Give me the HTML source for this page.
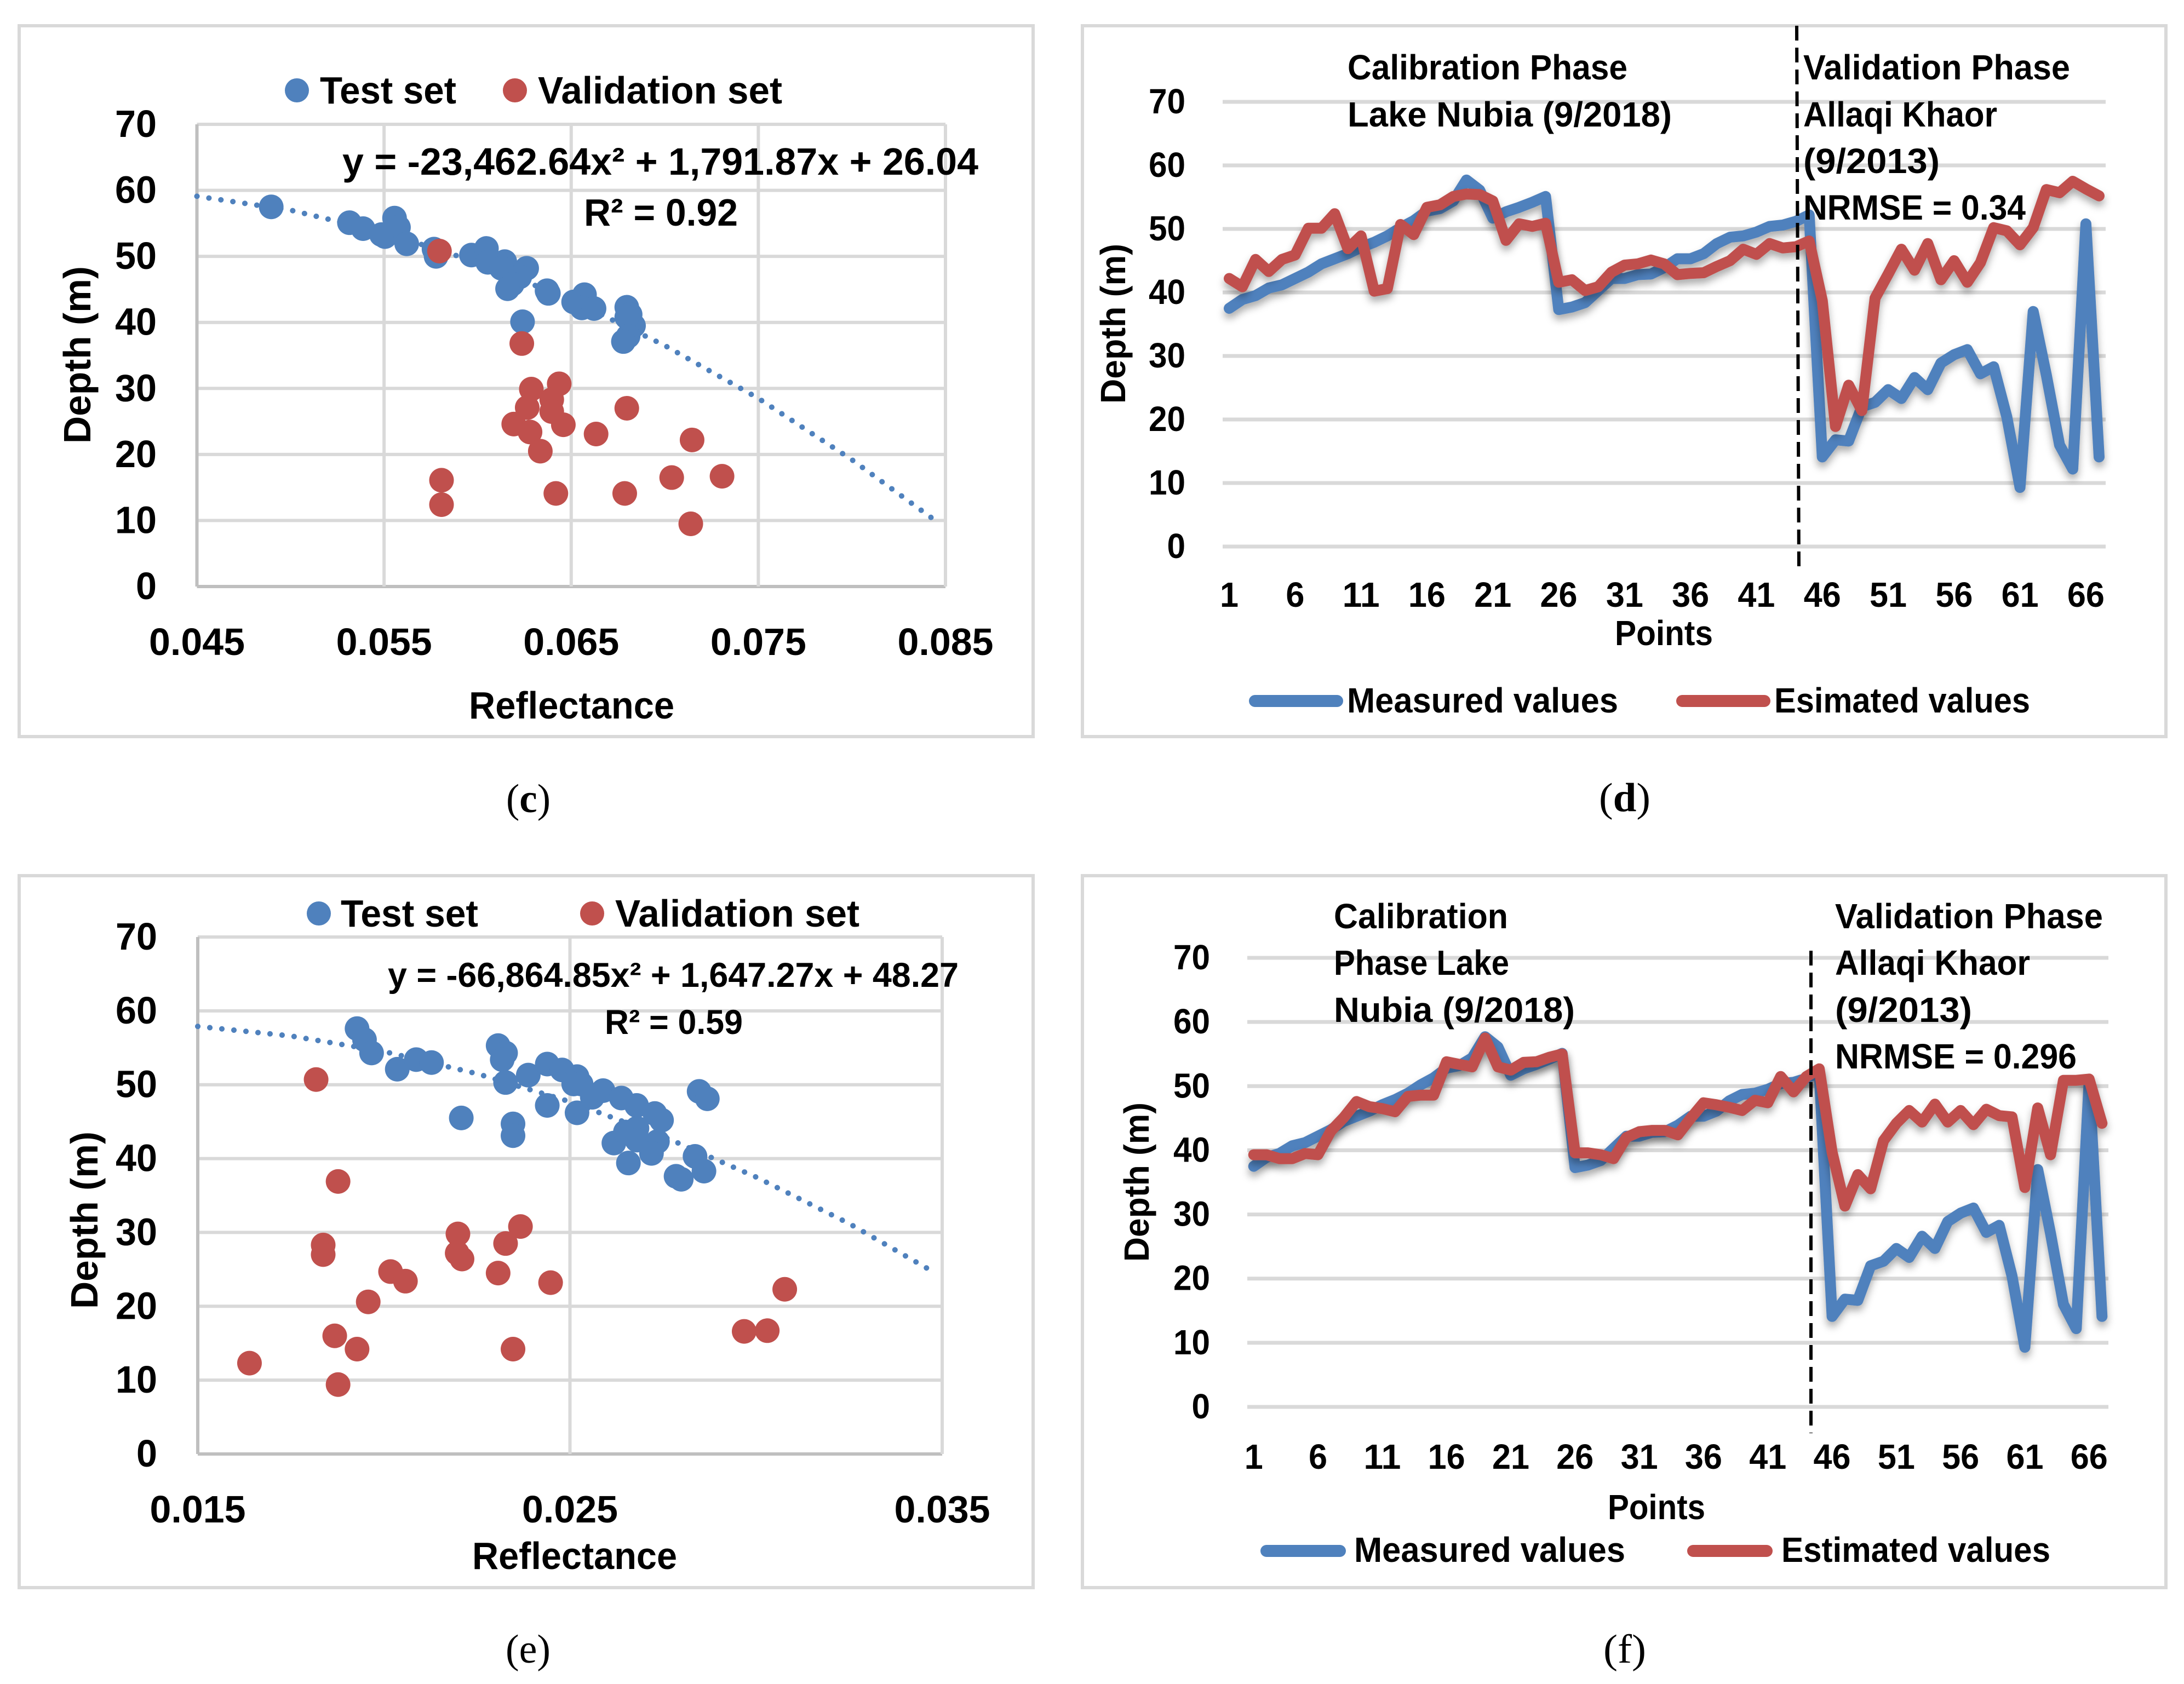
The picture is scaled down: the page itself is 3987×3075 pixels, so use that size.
<!DOCTYPE html>
<html lang="en">
<head>
<meta charset="utf-8">
<title>Depth versus reflectance charts</title>
<style>
  html, body { margin: 0; padding: 0; background: #ffffff; }
  svg { display: block; }
  .t { font-family: "Liberation Sans", sans-serif; font-weight: 700; fill: #000000; }
  .s { font-family: "Liberation Serif", serif; font-weight: 400; fill: #000000; }
</style>
</head>
<body>
<svg id="figure" xmlns="http://www.w3.org/2000/svg" width="3987" height="3075" viewBox="0 0 3987 3075">
  <defs>
    <filter id="lineShadow" x="-5%" y="-15%" width="110%" height="135%">
      <feDropShadow dx="0" dy="9" stdDeviation="7" flood-color="#000000" flood-opacity="0.33"/>
    </filter>
  </defs>

  <!-- Panel c -->
  <g id="panelC">
    <rect x="35" y="47" width="1851" height="1298" fill="#ffffff" stroke="#d9d9d9" stroke-width="6"/>
    <g id="plotC"></g>
    <circle cx="542" cy="165" r="22" fill="#4f81bd"/>
    <text class="t" x="584" y="189" font-size="70" textLength="249" lengthAdjust="spacingAndGlyphs">Test set</text>
    <circle cx="940" cy="165" r="22" fill="#c0504d"/>
    <text class="t" x="982" y="189" font-size="70" textLength="446" lengthAdjust="spacingAndGlyphs">Validation set</text>
    <text class="t" x="625" y="319" font-size="70" textLength="1161" lengthAdjust="spacingAndGlyphs">y = -23,462.64x² + 1,791.87x + 26.04</text>
    <text class="t" x="1066" y="412" font-size="70" textLength="281" lengthAdjust="spacingAndGlyphs">R² = 0.92</text>
    <text class="t" x="856" y="1312" font-size="70" textLength="375" lengthAdjust="spacingAndGlyphs">Reflectance</text>
    <text class="t" transform="translate(165,810) rotate(-90)" font-size="70" textLength="324" lengthAdjust="spacingAndGlyphs">Depth (m)</text>
    <text class="s" x="924" y="1483" font-size="74" textLength="81" lengthAdjust="spacingAndGlyphs">(<tspan font-weight="700">c</tspan>)</text>
  </g>

  <!-- Panel d -->
  <g id="panelD">
    <rect x="1976" y="47" width="1978" height="1298" fill="#ffffff" stroke="#d9d9d9" stroke-width="6"/>
    <g id="plotD"></g>
    <text class="t" x="2460" y="145" font-size="64" textLength="511" lengthAdjust="spacingAndGlyphs">Calibration Phase</text>
    <text class="t" x="2460" y="231" font-size="64" textLength="592" lengthAdjust="spacingAndGlyphs">Lake Nubia (9/2018)</text>
    <text class="t" x="3292" y="145" font-size="64" textLength="487" lengthAdjust="spacingAndGlyphs">Validation Phase</text>
    <text class="t" x="3292" y="231" font-size="64" textLength="354" lengthAdjust="spacingAndGlyphs">Allaqi Khaor</text>
    <text class="t" x="3292" y="316" font-size="64" textLength="249" lengthAdjust="spacingAndGlyphs">(9/2013)</text>
    <text class="t" x="3292" y="401" font-size="64" textLength="406" lengthAdjust="spacingAndGlyphs">NRMSE = 0.34</text>
    <text class="t" x="2948" y="1178" font-size="64" textLength="179" lengthAdjust="spacingAndGlyphs">Points</text>
    <text class="t" transform="translate(2054,737) rotate(-90)" font-size="64" textLength="292" lengthAdjust="spacingAndGlyphs">Depth (m)</text>
    <line x1="2291" y1="1280" x2="2441" y2="1280" stroke="#4f81bd" stroke-width="22" stroke-linecap="round"/>
    <text class="t" x="2459" y="1301" font-size="64" textLength="495" lengthAdjust="spacingAndGlyphs">Measured values</text>
    <line x1="3071" y1="1280" x2="3221" y2="1280" stroke="#c0504d" stroke-width="22" stroke-linecap="round"/>
    <text class="t" x="3239" y="1301" font-size="64" textLength="467" lengthAdjust="spacingAndGlyphs">Esimated values</text>
    <text class="s" x="2919" y="1481" font-size="74" textLength="94" lengthAdjust="spacingAndGlyphs">(<tspan font-weight="700">d</tspan>)</text>
  </g>

  <!-- Panel e -->
  <g id="panelE">
    <rect x="35" y="1599" width="1851" height="1300" fill="#ffffff" stroke="#d9d9d9" stroke-width="6"/>
    <g id="plotE"></g>
    <circle cx="582" cy="1668" r="22" fill="#4f81bd"/>
    <text class="t" x="622" y="1692" font-size="70" textLength="251" lengthAdjust="spacingAndGlyphs">Test set</text>
    <circle cx="1081" cy="1668" r="22" fill="#c0504d"/>
    <text class="t" x="1123" y="1692" font-size="70" textLength="446" lengthAdjust="spacingAndGlyphs">Validation set</text>
    <text class="t" x="708" y="1802" font-size="63" textLength="1042" lengthAdjust="spacingAndGlyphs">y = -66,864.85x² + 1,647.27x + 48.27</text>
    <text class="t" x="1104" y="1888" font-size="63" textLength="252" lengthAdjust="spacingAndGlyphs">R² = 0.59</text>
    <text class="t" x="862" y="2865" font-size="70" textLength="374" lengthAdjust="spacingAndGlyphs">Reflectance</text>
    <text class="t" transform="translate(178,2390) rotate(-90)" font-size="70" textLength="324" lengthAdjust="spacingAndGlyphs">Depth (m)</text>
    <text class="s" x="923" y="3036" font-size="74" textLength="82" lengthAdjust="spacingAndGlyphs">(e)</text>
  </g>

  <!-- Panel f -->
  <g id="panelF">
    <rect x="1976" y="1599" width="1978" height="1300" fill="#ffffff" stroke="#d9d9d9" stroke-width="6"/>
    <g id="plotF"></g>
    <text class="t" x="2435" y="1695" font-size="64" textLength="318" lengthAdjust="spacingAndGlyphs">Calibration</text>
    <text class="t" x="2435" y="1780" font-size="64" textLength="320" lengthAdjust="spacingAndGlyphs">Phase Lake</text>
    <text class="t" x="2435" y="1866" font-size="64" textLength="440" lengthAdjust="spacingAndGlyphs">Nubia (9/2018)</text>
    <text class="t" x="3350" y="1695" font-size="64" textLength="489" lengthAdjust="spacingAndGlyphs">Validation Phase</text>
    <text class="t" x="3350" y="1780" font-size="64" textLength="356" lengthAdjust="spacingAndGlyphs">Allaqi Khaor</text>
    <text class="t" x="3350" y="1866" font-size="64" textLength="250" lengthAdjust="spacingAndGlyphs">(9/2013)</text>
    <text class="t" x="3350" y="1951" font-size="64" textLength="441" lengthAdjust="spacingAndGlyphs">NRMSE = 0.296</text>
    <text class="t" x="2935" y="2774" font-size="64" textLength="178" lengthAdjust="spacingAndGlyphs">Points</text>
    <text class="t" transform="translate(2097,2304) rotate(-90)" font-size="64" textLength="291" lengthAdjust="spacingAndGlyphs">Depth (m)</text>
    <line x1="2312" y1="2832" x2="2446" y2="2832" stroke="#4f81bd" stroke-width="22" stroke-linecap="round"/>
    <text class="t" x="2472" y="2852" font-size="64" textLength="495" lengthAdjust="spacingAndGlyphs">Measured values</text>
    <line x1="3091" y1="2832" x2="3225" y2="2832" stroke="#c0504d" stroke-width="22" stroke-linecap="round"/>
    <text class="t" x="3252" y="2852" font-size="64" textLength="491" lengthAdjust="spacingAndGlyphs">Estimated values</text>
    <text class="s" x="2927" y="3036" font-size="74" textLength="78" lengthAdjust="spacingAndGlyphs">(f)</text>
  </g>
</svg>

<script>
// ---- shared tick labels ----
const depthTicks = [0, 10, 20, 30, 40, 50, 60, 70];
const pointTicks = [1, 6, 11, 16, 21, 26, 31, 36, 41, 46, 51, 56, 61, 66];

// ---- panel c data ----
const cReflectanceTicks = ["0.045", "0.055", "0.065", "0.075", "0.085"];
const cTestX = [0.04897, 0.05315, 0.05388, 0.05556, 0.05577, 0.05505, 0.05486, 0.05621, 0.05767, 0.05778, 0.05967, 0.06047, 0.06054, 0.06145, 0.06127, 0.06262, 0.06225, 0.06185, 0.0616, 0.06371, 0.06378, 0.06513, 0.06571, 0.06557, 0.06622, 0.06797, 0.06815, 0.06833, 0.06797, 0.06804, 0.06779, 0.0624];
const cTestY = [57.5, 55.1, 54.2, 55.8, 54.4, 53.0, 53.3, 51.9, 51.1, 50.0, 50.2, 51.2, 49.1, 49.2, 48.2, 48.2, 46.9, 45.8, 45.1, 44.8, 44.4, 43.1, 44.2, 42.2, 42.1, 42.3, 41.2, 39.5, 40.8, 37.9, 37.1, 40.1];
const cValidationX = [0.05796, 0.06236, 0.06436, 0.06287, 0.06396, 0.06265, 0.06396, 0.06797, 0.06193, 0.06458, 0.0628, 0.06633, 0.07146, 0.06335, 0.05807, 0.07037, 0.07306, 0.05807, 0.06418, 0.06786, 0.07139];
const cValidationY = [50.8, 36.8, 30.7, 29.9, 28.3, 27.1, 26.5, 27.0, 24.6, 24.5, 23.4, 23.1, 22.2, 20.5, 16.1, 16.5, 16.7, 12.4, 14.1, 14.1, 9.5];
const cTrendX = [0.045, 0.05, 0.055, 0.06, 0.065, 0.07, 0.075, 0.08, 0.0845];
const cTrendY = [59.1, 57.0, 53.6, 49.1, 43.4, 36.5, 28.5, 19.2, 9.9];

// ---- panel e data ----
const eReflectanceTicks = ["0.015", "0.025", "0.035"];
const eTestX = [0.01928, 0.01948, 0.01967, 0.02036, 0.02087, 0.02128, 0.02208, 0.02307, 0.02327, 0.02318, 0.02327, 0.02347, 0.02347, 0.02388, 0.02439, 0.02439, 0.02479, 0.02519, 0.0251, 0.0253, 0.02519, 0.0256, 0.02589, 0.02638, 0.02679, 0.02728, 0.02746, 0.02618, 0.02649, 0.0268, 0.0268, 0.02735, 0.02719, 0.02657, 0.02836, 0.0286, 0.02785, 0.02799, 0.02847, 0.02869];
const eTestY = [57.6, 56.1, 54.3, 52.1, 53.4, 53.0, 45.5, 55.3, 54.3, 53.4, 50.3, 44.7, 43.1, 51.3, 52.8, 47.2, 52.0, 51.1, 50.1, 50.1, 46.2, 48.3, 49.2, 48.2, 47.2, 46.1, 45.2, 42.1, 43.6, 44.1, 42.5, 42.3, 40.7, 39.4, 40.3, 38.3, 37.6, 37.2, 49.1, 48.1];
const eValidationX = [0.01818, 0.01877, 0.01837, 0.01837, 0.02018, 0.02058, 0.01958, 0.01868, 0.01928, 0.01639, 0.01877, 0.02199, 0.02197, 0.0221, 0.02327, 0.02367, 0.02307, 0.02448, 0.02347, 0.03077, 0.02968, 0.0303];
const eValidationY = [50.7, 36.9, 28.3, 27.0, 24.7, 23.4, 20.6, 16.0, 14.2, 12.3, 9.4, 29.8, 27.2, 26.4, 28.5, 30.8, 24.5, 23.2, 14.2, 22.3, 16.6, 16.7];
const eTrendX = [0.015, 0.0175, 0.02, 0.0225, 0.025, 0.0275, 0.03, 0.0325, 0.03485];
const eTrendY = [57.9, 56.6, 54.5, 51.5, 47.7, 43.0, 37.5, 31.2, 24.4];

// ---- panels d and f data ----
const measuredValues = [37.5, 38.9, 39.5, 40.7, 41.2, 42.2, 43.2, 44.5, 45.3, 46.1, 47.1, 47.9, 48.9, 50.2, 51.3, 52.8, 53.2, 54.4, 57.7, 56.1, 51.7, 52.7, 53.4, 54.2, 55.1, 37.3, 37.7, 38.4, 40.3, 42.2, 42.2, 42.8, 42.9, 43.9, 45.3, 45.3, 46.1, 47.7, 48.7, 48.9, 49.5, 50.4, 50.6, 51.2, 52.2, 14.1, 16.8, 16.6, 22.0, 22.7, 24.7, 23.3, 26.6, 24.7, 28.9, 30.2, 31.0, 27.2, 28.3, 20.4, 9.3, 37.0, 27.0, 16.0, 12.2, 50.8, 14.1];
const dEstimatedValues = [42.2, 40.9, 45.2, 43.3, 45.2, 45.9, 50.1, 50.1, 52.4, 46.9, 48.9, 40.2, 40.6, 50.7, 49.1, 53.4, 53.8, 55.1, 55.5, 55.4, 54.4, 48.2, 50.8, 50.4, 50.9, 41.6, 42.0, 40.3, 40.9, 43.2, 44.3, 44.5, 45.1, 44.5, 42.8, 43.0, 43.1, 44.1, 45.0, 46.8, 46.0, 47.7, 47.0, 47.2, 48.1, 38.7, 18.9, 25.4, 21.4, 39.1, 42.9, 46.8, 43.5, 47.7, 42.0, 45.0, 41.6, 44.7, 50.2, 49.7, 47.5, 50.2, 56.2, 55.7, 57.5, 56.3, 55.2];
const fEstimatedValues = [39.3, 39.3, 38.7, 38.7, 39.5, 39.3, 43.0, 45.1, 47.6, 46.8, 46.5, 46.0, 48.4, 48.6, 48.6, 53.8, 53.4, 53.0, 57.5, 53.0, 52.5, 53.7, 53.8, 54.5, 55.0, 39.6, 39.6, 39.3, 38.7, 42.0, 42.9, 43.1, 43.1, 42.4, 45.0, 47.4, 47.1, 46.7, 46.2, 47.8, 47.4, 51.5, 49.1, 51.5, 52.7, 39.7, 31.3, 36.2, 34.0, 41.5, 44.2, 46.2, 44.4, 47.2, 44.4, 46.2, 44.0, 46.4, 45.4, 45.2, 34.2, 46.6, 39.3, 50.9, 50.9, 51.1, 44.2];

const SVGNS = "http://www.w3.org/2000/svg";
const BLUE = "#4f81bd";
const RED = "#c0504d";
const GRID = "#d9d9d9";
const AXIS = "#bfbfbf";

function shape(parent, tag, name, props) {
  const el = document.createElementNS(SVGNS, tag);
  
  
  for (const k in props) {
    el.setAttribute(k, props[k]);
  }
  parent.appendChild(el);
  return el;
}

function tickLabel(parent, name, str, x, y, size, width, anchor) {
  const el = shape(parent, "text", name, {
    "class": "t", x: x, y: y, "font-size": size,
    "text-anchor": anchor, textLength: width, lengthAdjust: "spacingAndGlyphs"
  });
  el.textContent = str;
  return el;
}

function drawScatter(plotId, geom, xTicks, testX, testY, valX, valY, trendX, trendY) {
  const plot = document.getElementById(plotId);
  const xMin = Number(xTicks[0]);
  const xMax = Number(xTicks[xTicks.length - 1]);
  const sx = v => geom.left + (v - xMin) / (xMax - xMin) * (geom.right - geom.left);
  const sy = v => geom.bottom - v / 70 * (geom.bottom - geom.top);

  depthTicks.forEach(t => {
    shape(plot, "line", "y-gridline", {
      x1: geom.left, x2: geom.right, y1: sy(t), y2: sy(t),
      stroke: t === 0 ? AXIS : GRID, "stroke-width": 6
    });
    tickLabel(plot, "y-tick-label", String(t), geom.yLabelRight, sy(t) + 23, 70, String(t).length * 38, "end");
  });
  xTicks.forEach((t, i) => {
    shape(plot, "line", "x-gridline", {
      x1: sx(Number(t)), x2: sx(Number(t)), y1: geom.top, y2: geom.bottom,
      stroke: i === 0 ? AXIS : GRID, "stroke-width": 6
    });
    tickLabel(plot, "x-tick-label", t, sx(Number(t)), geom.xLabelY, 70, 175, "middle");
  });

  const trendPts = trendX.map((x, i) => sx(x).toFixed(1) + "," + sy(trendY[i]).toFixed(1)).join(" ");
  shape(plot, "polyline", "trendline", {
    points: trendPts, fill: "none", stroke: BLUE, "stroke-width": 10,
    "stroke-linecap": "round", "stroke-dasharray": "0.1 22"
  });
  testX.forEach((x, i) => {
    shape(plot, "circle", "test-point", { cx: sx(x), cy: sy(testY[i]), r: 22.5, fill: BLUE });
  });
  valX.forEach((x, i) => {
    shape(plot, "circle", "validation-point", { cx: sx(x), cy: sy(valY[i]), r: 22.5, fill: RED });
  });
}

function drawLines(plotId, geom, measured, estimated) {
  const plot = document.getElementById(plotId);
  const band = (geom.right - geom.left) / measured.length;
  const sx = p => geom.left + (p - 0.5) * band;
  const sy = v => geom.bottom - v / 70 * (geom.bottom - geom.top);

  depthTicks.forEach(t => {
    shape(plot, "line", "y-gridline", {
      x1: geom.left, x2: geom.right, y1: sy(t), y2: sy(t),
      stroke: GRID, "stroke-width": 7
    });
    tickLabel(plot, "y-tick-label", String(t), geom.yLabelRight, sy(t) + 21, 64, String(t).length * 33.5, "end");
  });
  pointTicks.forEach(t => {
    tickLabel(plot, "x-tick-label", String(t), sx(t), geom.xLabelY, 64, String(t).length * 34, "middle");
  });

  const toPts = arr => arr.map((v, i) => sx(i + 1).toFixed(1) + "," + sy(v).toFixed(1)).join(" ");
  shape(plot, "polyline", "measured-line", {
    points: toPts(measured), fill: "none", stroke: BLUE, "stroke-width": 20,
    "stroke-linecap": "round", "stroke-linejoin": "round", filter: "url(#lineShadow)"
  });
  shape(plot, "polyline", "estimated-line", {
    points: toPts(estimated), fill: "none", stroke: RED, "stroke-width": 20,
    "stroke-linecap": "round", "stroke-linejoin": "round", filter: "url(#lineShadow)"
  });
  shape(plot, "line", "phase-divider", {
    x1: geom.divX1, y1: geom.divTop, x2: geom.divX2, y2: geom.divBottom,
    stroke: "#000000", "stroke-width": 6, "stroke-dasharray": "27 13"
  });
}

drawScatter("plotC", { left: 359.5, right: 1726, top: 227, bottom: 1071, yLabelRight: 286, xLabelY: 1196 },
  cReflectanceTicks, cTestX, cTestY, cValidationX, cValidationY, cTrendX, cTrendY);
drawScatter("plotE", { left: 361, right: 1720, top: 1711, bottom: 2655, yLabelRight: 287, xLabelY: 2780 },
  eReflectanceTicks, eTestX, eTestY, eValidationX, eValidationY, eTrendX, eTrendY);
drawLines("plotD", { left: 2232, right: 3844, top: 186, bottom: 998, yLabelRight: 2164, xLabelY: 1108, divX1: 3280, divX2: 3284, divTop: 47, divBottom: 1046 },
  measuredValues, dEstimatedValues);
drawLines("plotF", { left: 2277, right: 3849, top: 1749, bottom: 2569, yLabelRight: 2209, xLabelY: 2682, divX1: 3306, divX2: 3306, divTop: 1736, divBottom: 2617 },
  measuredValues, fEstimatedValues);
</script>
</body>
</html>
